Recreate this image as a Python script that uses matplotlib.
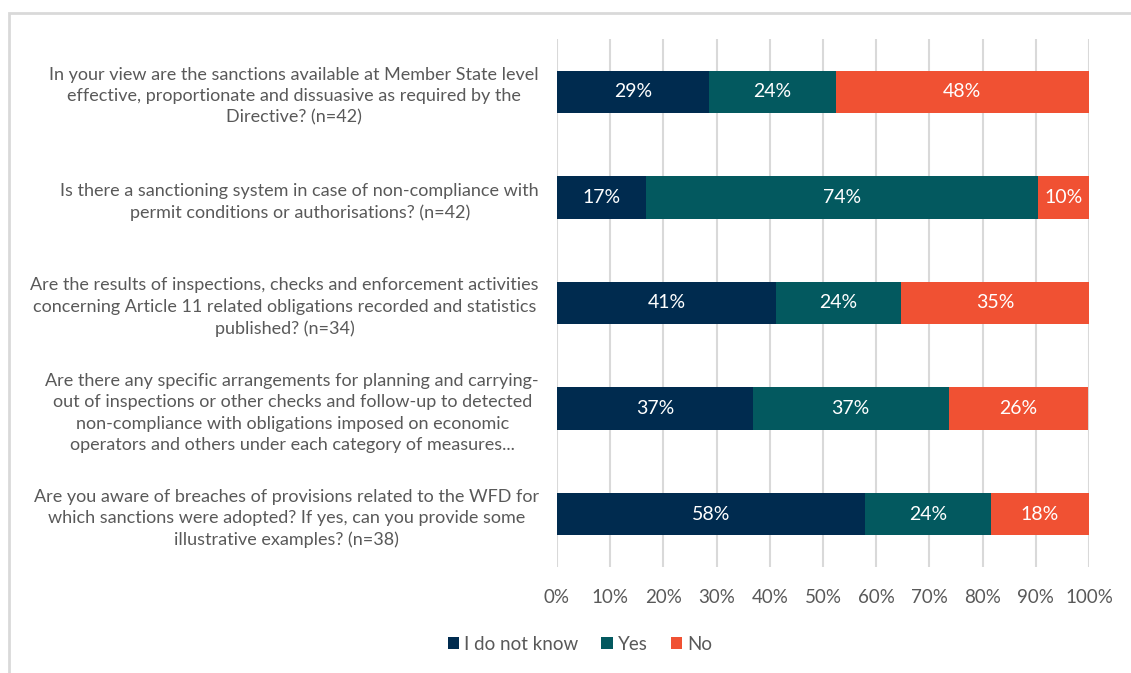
import matplotlib.pyplot as plt
from matplotlib.patches import Rectangle

plt.rcParams['font.family'] = ['Lato', 'DejaVu Sans']

# survey questions (top to bottom) and answer shares in percent
questions = [
    "In your view are the sanctions available at Member State level\n"
    "effective, proportionate and dissuasive as required by the\n"
    "Directive? (n=42)",
    "Is there a sanctioning system in case of non-compliance with\n"
    "permit conditions or authorisations? (n=42)",
    "Are the results of inspections, checks and enforcement activities\n"
    "concerning Article 11 related obligations recorded and statistics\n"
    "published? (n=34)",
    "Are there any specific arrangements for planning and carrying-\n"
    "out of inspections or other checks and follow-up to detected\n"
    "non-compliance with obligations imposed on economic\n"
    "operators and others under each category of measures...",
    "Are you aware of breaches of provisions related to the WFD for\n"
    "which sanctions were adopted? If yes, can you provide some\n"
    "illustrative examples? (n=38)",
]
dont_know = [28.6, 16.7, 41.2, 36.8, 57.9]
yes = [23.8, 73.8, 23.5, 36.8, 23.7]
no = [47.6, 9.5, 35.3, 26.3, 18.4]

series = [("I do not know", dont_know, "#002B4F"),
          ("Yes", yes, "#03595F"),
          ("No", no, "#F05133")]

fig = plt.figure(figsize=(11.31, 6.73), dpi=100)
ax = fig.add_axes([557 / 1131, 1 - 567 / 673, 532 / 1131, 528 / 673])

ypos = list(range(len(questions)))
left = [0.0] * len(questions)
for name, vals, col in series:
    bars = ax.barh(ypos, vals, left=left, height=0.4, color=col, label=name, zorder=3)
    for b, v in zip(bars, vals):
        ax.text(b.get_x() + b.get_width() / 2, b.get_y() + b.get_height() / 2,
                f"{v:.0f}%", ha='center', va='center', color='white', fontsize=14, zorder=4)
    left = [l + v for l, v in zip(left, vals)]

ax.set_xlim(0, 100)
ax.set_ylim(len(questions) - 0.5, -0.5)
ax.set_xticks(range(0, 101, 10))
ax.set_xticklabels([f"{t}%" for t in range(0, 101, 10)])
ax.set_yticks(ypos)
ax.set_yticklabels(questions, multialignment='center', linespacing=1.42)
ax.tick_params(axis='y', length=0, pad=13, labelsize=13, labelcolor='#595959')
ax.tick_params(axis='x', length=0, pad=16, labelsize=13.5, labelcolor='#595959')
ax.grid(axis='x', color='#D9D9D9', linewidth=1.5, zorder=0)
for s in ax.spines.values():
    s.set_visible(False)

fig.legend(loc='center', bbox_to_anchor=(580 / 1131, 1 - 644 / 673), ncol=3, frameon=False,
           fontsize=13.5, labelcolor='#595959', handlelength=0.6, handleheight=0.6,
           handletextpad=0.3, columnspacing=1.2)

# light chart frame (only top and left edges show)
fig.add_artist(Rectangle((9 / 1131, -0.2), 1.2, 1.2 - 13 / 673, transform=fig.transFigure,
                         fill=False, edgecolor='#D9D9D9', linewidth=2))

fig.savefig("out.png", dpi=100, facecolor='white')
